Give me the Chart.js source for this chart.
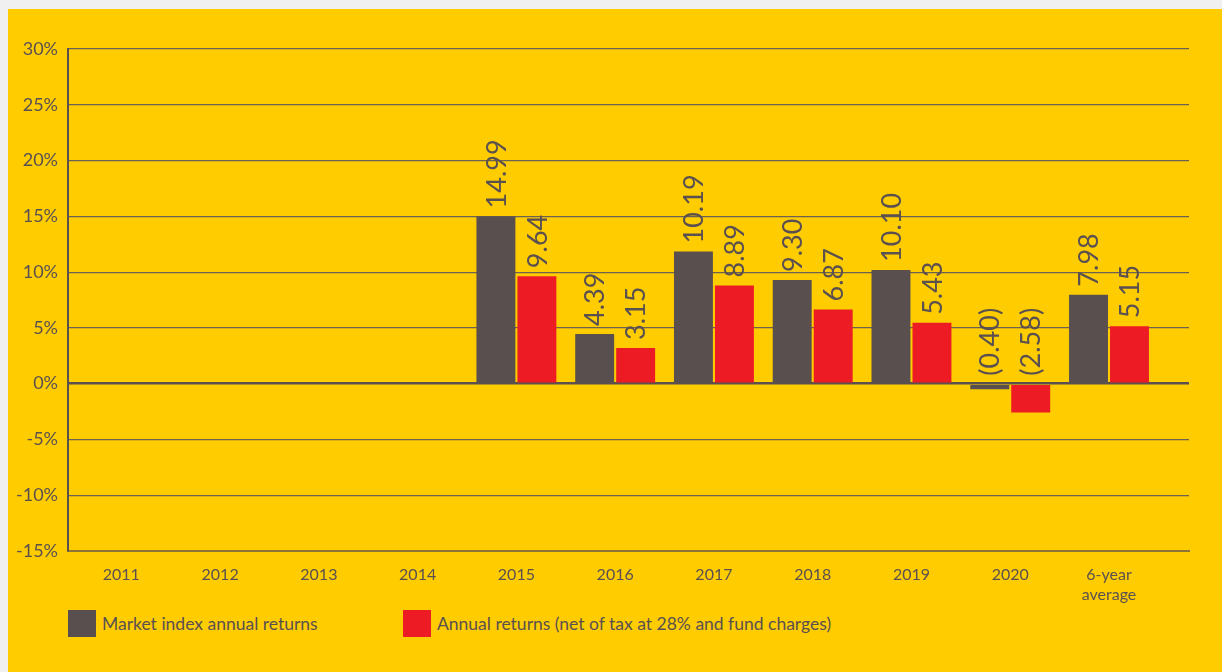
<!DOCTYPE html>
<html>
<head>
<meta charset="UTF-8">
<script src="https://cdn.jsdelivr.net/npm/chart.js@4.4.1/dist/chart.umd.min.js"></script>
<title>Returns chart</title>
<style type="text/css">
body{margin:0;background:#f0f0f0;font-family:Lato,sans-serif;overflow:hidden}
.panel{position:absolute;left:8px;top:9px;right:0;bottom:0;background:#ffcc00}
.wrap{position:absolute;left:0;top:0;width:1214px;height:600px}
.key{position:absolute;top:601px;height:27px;line-height:27px;color:#5a5050;font-size:17.5px}
.key span{position:absolute;left:0;top:0;width:28px;height:27px}
.key div{position:absolute;left:34px;top:0;white-space:nowrap}
</style>
</head>
<body>
<div class="panel">
	<div class="wrap"><canvas id="myChart"></canvas></div>
	<div class="key" id="key0" style="left:60px"><span></span><div></div></div>
	<div class="key" id="key1" style="left:395px"><span></span><div></div></div>
</div>
<script>
// categories
var years = ['2011','2012','2013','2014','2015','2016','2017','2018','2019','2020',['6-year','average']];
// bar heights as drawn (%)
var marketIndex = [null,null,null,null,14.99,4.45,11.85,9.30,10.20,-0.50,7.98];
var netReturns = [null,null,null,null,9.64,3.20,8.80,6.65,5.45,-2.58,5.15];
// printed labels above bars
var marketText = ['','','','','14.99','4.39','10.19','9.30','10.10','(0.40)','7.98'];
var netText = ['','','','','9.64','3.15','8.89','6.87','5.43','(2.58)','5.15'];
var seriesNames = ['Market index annual returns','Annual returns (net of tax at 28% and fund charges)'];
var seriesColors = ['#594f4f','#ed1c24'];
var yTicks = [-15,-10,-5,0,5,10,15,20,25,30];

var textColor = '#5a5050';

function pts(arr){
	var out = [];
	for (var i=0;i<arr.length;i++){
		if(arr[i]!==null) out.push({x:i,y:arr[i]});
	}
	return out;
}

// rotated value labels over the bars
var barText = {
	id:'barText',
	afterDatasetsDraw:function(chart){
		var ctx = chart.ctx;
		var yScale = chart.scales.y;
		var texts = [marketText, netText];
		ctx.save();
		ctx.fillStyle = textColor;
		ctx.font = '27px Lato';
		ctx.textAlign = 'left';
		ctx.textBaseline = 'middle';
		for (var d=0; d<2; d++){
			var meta = chart.getDatasetMeta(d);
			meta.data.forEach(function(bar, j){
				var raw = meta._parsed[j];
				var y = yScale.getPixelForValue(Math.max(raw.y,0)) - 8;
				ctx.save();
				ctx.translate(bar.x, y);
				ctx.rotate(-Math.PI/2);
				ctx.fillText(texts[d][raw.x], 0, 1);
				ctx.restore();
			});
		}
		ctx.restore();
	}
};

var ctx = document.getElementById('myChart').getContext('2d');
var myChart = new Chart(ctx, {
	type:'bar',
	data:{
		datasets:[{
			label:seriesNames[0],
			data:pts(marketIndex),
			backgroundColor:seriesColors[0]
		},{
			label:seriesNames[1],
			data:pts(netReturns),
			backgroundColor:seriesColors[1]
		}]
	},
	options:{
		responsive:true,
		maintainAspectRatio:false,
		animation:false,
		categoryPercentage:0.83,
		barPercentage:0.95,
		layout:{padding:{top:40,right:33,bottom:0,left:0}},
		plugins:{legend:{display:false},tooltip:{enabled:false}},
		scales:{
			x:{
				type:'linear',
				offset:false,
				min:-0.54,
				max:10.81,
				grid:{display:false,drawTicks:false},
				border:{color:'#8c7535',width:2},
				afterBuildTicks:function(s){
					s.ticks = years.map(function(c,i){return {value:i};});
				},
				afterFit:function(s){ s.height = 58; },
				ticks:{
					autoSkip:false,
					maxRotation:0,
					padding:14,
					color:textColor,
					font:{family:'Lato',size:16,lineHeight:1.25},
					callback:function(v){ return years[v]; }
				}
			},
			y:{
				min:-15,
				max:30,
				afterBuildTicks:function(s){
					s.ticks = yTicks.map(function(v){return {value:v};});
				},
				afterFit:function(s){ s.width = 60; },
				grid:{
					drawTicks:false,
					color:function(c){ return c.tick.value===0 ? '#5a5050' : '#6d6150'; },
					lineWidth:function(c){ return c.tick.value===0 ? 2.5 : 1.2; }
				},
				border:{color:'#5a5050',width:2},
				ticks:{
					padding:10,
					color:textColor,
					font:{family:'Lato',size:18},
					callback:function(v){ return v+'%'; }
				}
			}
		}
	},
	plugins:[barText]
});

// legend built from the series arrays
for (var k=0;k<2;k++){
	var el = document.getElementById('key'+k);
	el.querySelector('span').style.background = seriesColors[k];
	el.querySelector('div').textContent = seriesNames[k];
}
</script>
</body>
</html>
